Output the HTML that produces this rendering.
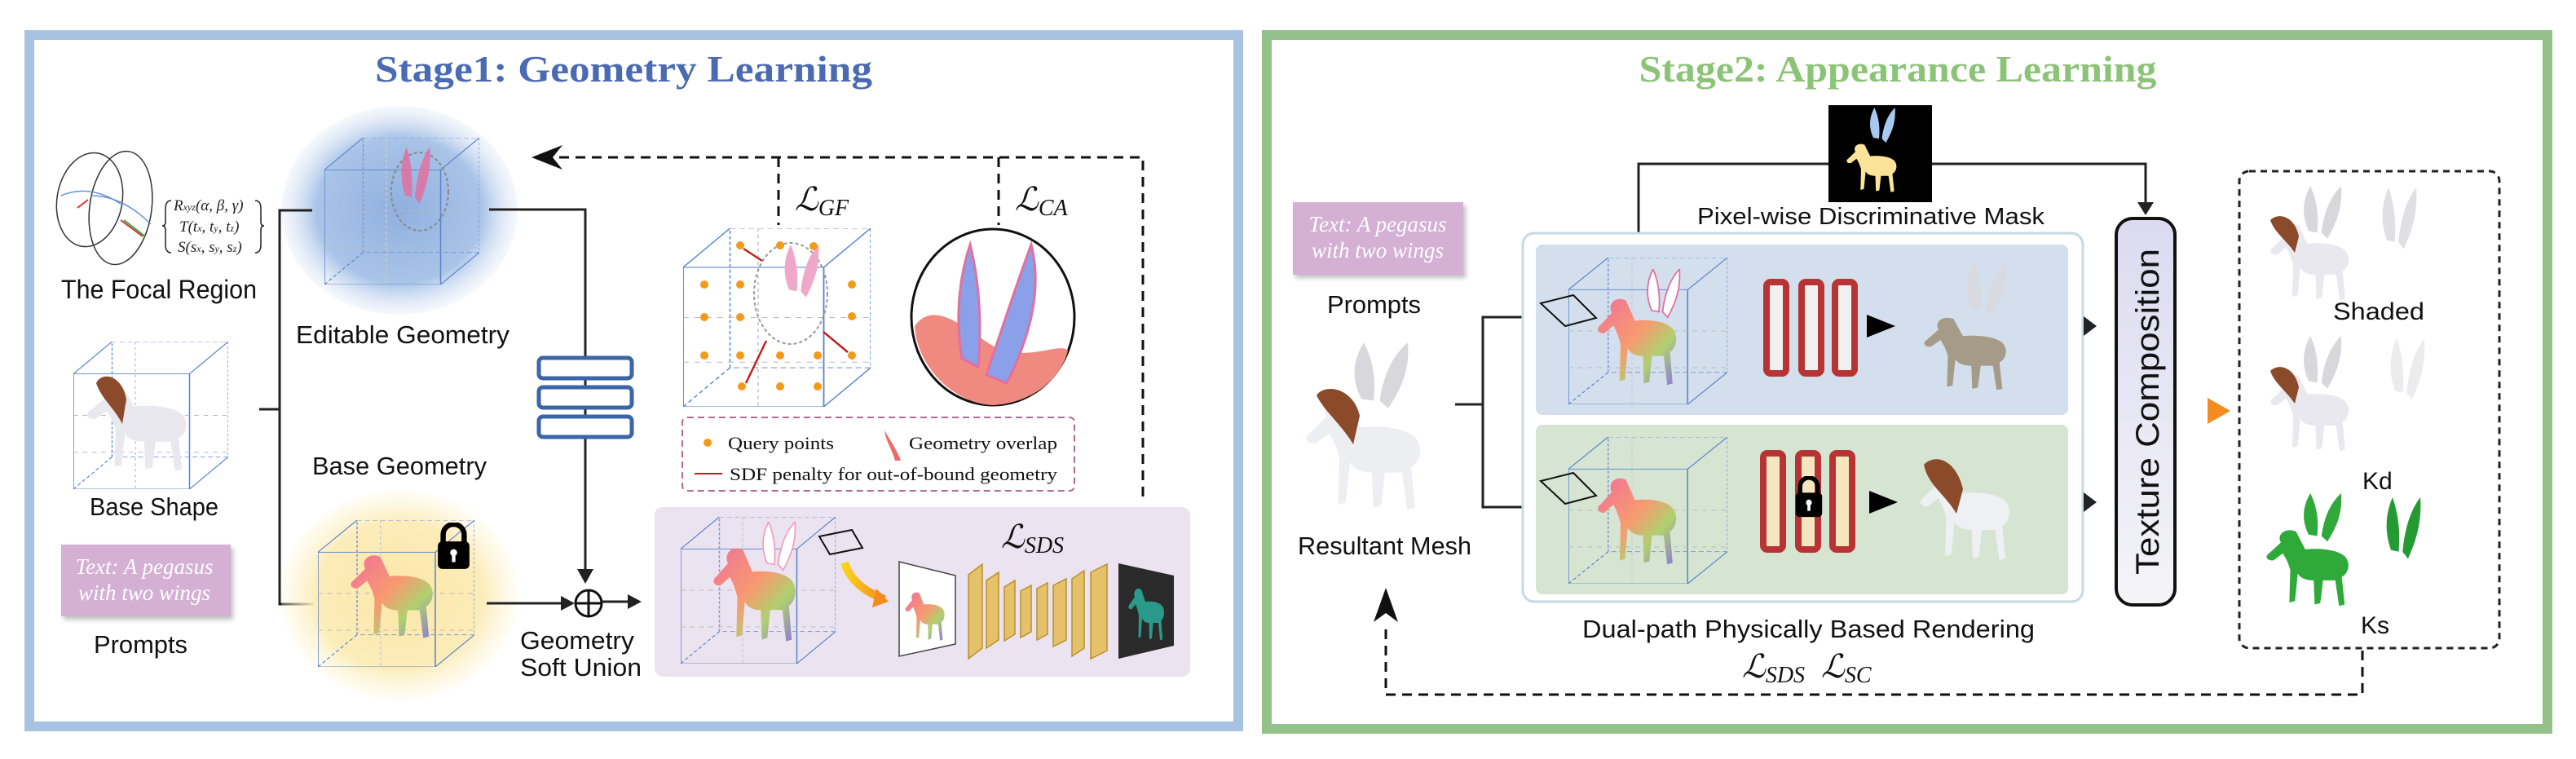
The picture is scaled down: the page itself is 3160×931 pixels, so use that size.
<!DOCTYPE html>
<html><head><meta charset="utf-8"><style>
html,body{margin:0;padding:0;background:#fff;}
svg{display:block;}
.t{font-family:"Liberation Sans",sans-serif;fill:#111;}
.s{font-family:"Liberation Serif",serif;}
</style></head><body>
<svg width="3160" height="931" viewBox="0 0 3160 931" xmlns="http://www.w3.org/2000/svg">
<defs>
<radialGradient id="gb" cx="50%" cy="50%" r="50%"><stop offset="0" stop-color="#8fb0de"/><stop offset="0.7" stop-color="#aac4e8"/><stop offset="1" stop-color="#dfe9f6" stop-opacity="0.3"/></radialGradient>
<radialGradient id="gy" cx="50%" cy="50%" r="50%"><stop offset="0" stop-color="#fbe7a8"/><stop offset="0.7" stop-color="#fcecb8"/><stop offset="1" stop-color="#fff7dd" stop-opacity="0.3"/></radialGradient>
<linearGradient id="rain" x1="0" y1="0" x2="1" y2="1"><stop offset="0" stop-color="#f0709a"/><stop offset="0.45" stop-color="#f79a70"/><stop offset="0.7" stop-color="#b0d070"/><stop offset="1" stop-color="#8a7ad8"/></linearGradient>
<linearGradient id="tc" x1="0" y1="0" x2="0" y2="1"><stop offset="0" stop-color="#dcdaf0"/><stop offset="1" stop-color="#f4f4f8"/></linearGradient>
<linearGradient id="oa" x1="0" y1="0" x2="1" y2="0"><stop offset="0" stop-color="#fbd21a"/><stop offset="1" stop-color="#f58a1e"/></linearGradient>
<linearGradient id="gl" x1="0" y1="0" x2="1" y2="0"><stop offset="0" stop-color="#fff"/><stop offset="1" stop-color="#222"/></linearGradient>
<symbol id="horse" viewBox="0 0 100 130" preserveAspectRatio="none">
<path d="M20,30 C15,18 25,8 36,14 L46,40 C60,38 80,40 88,50 C95,60 92,75 85,80 L88,120 L82,122 L78,85 L65,85 L62,118 L56,120 L55,85 C45,85 40,80 38,75 L35,115 L29,117 L30,70 C28,60 25,52 22,46 L12,56 C5,57 2,50 8,45 Z"/>
</symbol>
<symbol id="wing" viewBox="0 0 100 130" preserveAspectRatio="none">
<path d="M40,60 C30,35 35,15 42,0 C50,20 52,40 50,62 Z M55,62 C58,35 65,15 78,0 C80,30 72,50 62,70 Z"/>
</symbol>
<symbol id="cube" viewBox="0 0 100 160" preserveAspectRatio="none">
<g fill="none" stroke="#5b84cc" stroke-width="0.8" vector-effect="non-scaling-stroke">
<rect x="0" y="35" width="75" height="125"/><rect x="25" y="0" width="75" height="125" stroke-dasharray="3,2" stroke="#7a9ad8"/>
<line x1="0" y1="35" x2="25" y2="0"/><line x1="75" y1="35" x2="100" y2="0"/><line x1="75" y1="160" x2="100" y2="125"/><line x1="0" y1="160" x2="25" y2="125" stroke-dasharray="3,2"/>
<line x1="0" y1="80" x2="100" y2="80" stroke="#bbb" stroke-dasharray="3,3"/><line x1="0" y1="120" x2="100" y2="120" stroke="#bbb" stroke-dasharray="3,3"/>
<line x1="40" y1="0" x2="40" y2="160" stroke="#ccc" stroke-dasharray="3,3"/>
</g></symbol>
<symbol id="lock" viewBox="0 0 40 56" preserveAspectRatio="none">
<path d="M8,24 V14 A12,12 0 0 1 32,14 V24" fill="none" stroke="#000" stroke-width="6"/>
<rect x="2" y="22" width="36" height="32" rx="5" fill="#000"/><circle cx="20" cy="35" r="4" fill="#fff"/><rect x="18" y="36" width="4" height="10" fill="#fff"/>
</symbol>
</defs>

<!-- ============ STAGE 1 ============ -->
<rect x="36" y="43" width="1483" height="848" fill="#fff" stroke="#a8c2e2" stroke-width="12"/>
<text x="765" y="100" text-anchor="middle" class="s" font-size="46" font-weight="bold" fill="#4a6ab3" textLength="610" lengthAdjust="spacingAndGlyphs">Stage1: Geometry  Learning</text>

<!-- focal region -->
<g fill="none" stroke="#333" stroke-width="1.5">
<ellipse cx="110" cy="245" rx="40" ry="58" transform="rotate(10 110 245)"/>
<ellipse cx="148" cy="255" rx="38" ry="70" transform="rotate(8 148 255)"/>
<path d="M75,240 Q110,225 148,250 M112,240 Q150,240 185,275" stroke="#6a90d8"/>
</g>
<path d="M95,255 L108,245 M148,270 L175,290" stroke="#d33" stroke-width="2"/>
<path d="M152,270 L178,290" stroke="#3a3" stroke-width="2"/>
<text class="s" font-size="19" font-style="italic" fill="#222"><tspan x="213" y="258">R<tspan font-size="12">xyz</tspan>(α, β, γ)</tspan><tspan x="220" y="284">T(t<tspan font-size="12">x</tspan>, t<tspan font-size="12">y</tspan>, t<tspan font-size="12">z</tspan>)</tspan><tspan x="218" y="309">S(s<tspan font-size="12">x</tspan>, s<tspan font-size="12">y</tspan>, s<tspan font-size="12">z</tspan>)</tspan></text>
<path d="M210,246 Q203,246 203,256 V272 Q203,277 199,277 Q203,277 203,282 V300 Q203,310 210,310" fill="none" stroke="#222" stroke-width="1.5"/>
<path d="M313,246 Q320,246 320,256 V272 Q320,277 324,277 Q320,277 320,282 V300 Q320,310 313,310" fill="none" stroke="#222" stroke-width="1.5"/>
<text x="75" y="366" class="t" font-size="32" textLength="240" lengthAdjust="spacingAndGlyphs">The Focal Region</text>

<!-- editable geometry -->
<ellipse cx="490" cy="258" rx="145" ry="128" fill="url(#gb)"/>
<use href="#cube" x="398" y="169" width="190" height="180"/>
<ellipse cx="515" cy="235" rx="35" ry="48" fill="none" stroke="#888" stroke-dasharray="4,3" stroke-width="2"/>
<use href="#wing" x="465" y="180" width="80" height="130" fill="#e070a0" opacity="0.85"/>
<text x="363" y="421" class="t" font-size="31" textLength="262" lengthAdjust="spacingAndGlyphs">Editable Geometry</text>

<!-- base shape -->
<use href="#cube" x="90" y="419" width="190" height="181"/>
<use href="#horse" x="100" y="460" width="140" height="125" fill="#e8e8ee"/>
<path d="M118,470 C125,455 150,460 155,490 L150,520 C140,500 125,490 118,470Z" fill="#8b4a2a"/>
<text x="110" y="632" class="t" font-size="31" textLength="158" lengthAdjust="spacingAndGlyphs">Base Shape</text>

<!-- prompts -->
<rect x="75" y="668" width="208" height="88" fill="#d4b0d4" filter="drop-shadow(3px 4px 3px rgba(0,0,0,.25))"/>
<text class="s" font-size="27" font-style="italic" fill="#fff" text-anchor="middle"><tspan x="177" y="704">Text: A pegasus</tspan><tspan x="177" y="736">with two wings</tspan></text>
<text x="115" y="801" class="t" font-size="31" textLength="115" lengthAdjust="spacingAndGlyphs">Prompts</text>

<!-- bracket -->
<path d="M383,258 H343 V741 H385 M318,502 H343" fill="none" stroke="#222" stroke-width="3"/>

<!-- base geometry -->
<text x="383" y="582" class="t" font-size="31" textLength="214" lengthAdjust="spacingAndGlyphs">Base Geometry</text>
<ellipse cx="490" cy="730" rx="145" ry="128" fill="url(#gy)"/>
<use href="#cube" x="390" y="638" width="192" height="180"/>
<use href="#horse" x="425" y="670" width="115" height="120" fill="url(#rain)"/>
<use href="#lock" x="535" y="641" width="43" height="59"/>

<!-- line to union -->
<path d="M600,257 H718 V700" fill="none" stroke="#222" stroke-width="3"/>
<path d="M708,698 L718,716 L728,698 Z" fill="#222"/>
<g fill="#fff" stroke="#3a66a8" stroke-width="5">
<rect x="661" y="439" width="114" height="25" rx="5"/><rect x="661" y="475" width="114" height="25" rx="5"/><rect x="661" y="511" width="114" height="25" rx="5"/>
</g>
<path d="M597,740 H690" stroke="#222" stroke-width="3"/><path d="M688,731 L705,740 L688,749Z" fill="#222"/>
<circle cx="722" cy="740" r="16" fill="#fff" stroke="#111" stroke-width="3"/>
<path d="M706,740 H738 M722,724 V756" stroke="#111" stroke-width="3"/>
<path d="M738,738 H772" stroke="#222" stroke-width="3"/><path d="M770,729 L787,738 L770,747Z" fill="#222"/>
<text class="t" font-size="31"><tspan x="638" y="796" textLength="140" lengthAdjust="spacingAndGlyphs">Geometry</tspan><tspan x="638" y="829" textLength="149" lengthAdjust="spacingAndGlyphs">Soft Union</tspan></text>

<!-- dashed feedback -->
<path d="M1402,609 V193 H680 M955,193 V276 M1225,193 V276" fill="none" stroke="#111" stroke-width="3" stroke-dasharray="12,8"/>
<path d="M690,178 L652,193 L690,208 L678,193Z" fill="#111"/>
<text x="975" y="258" class="s" font-size="40" font-style="italic" fill="#111">ℒ<tspan font-size="28" dy="6">GF</tspan></text>
<text x="1245" y="258" class="s" font-size="40" font-style="italic" fill="#111">ℒ<tspan font-size="28" dy="6">CA</tspan></text>

<!-- grid cube -->
<use href="#cube" x="838" y="280" width="230" height="219"/>
<ellipse cx="970" cy="360" rx="45" ry="62" fill="none" stroke="#999" stroke-dasharray="4,3" stroke-width="2"/>
<use href="#wing" x="930" y="300" width="95" height="120" fill="#f0a8c8"/>
<g fill="#f39a1a">
<circle cx="908" cy="301" r="5"/><circle cx="957" cy="301" r="5"/><circle cx="998" cy="302" r="5"/>
<circle cx="864" cy="349" r="5"/><circle cx="908" cy="349" r="5"/><circle cx="1045" cy="349" r="5"/>
<circle cx="864" cy="389" r="5"/><circle cx="908" cy="389" r="5"/><circle cx="1045" cy="388" r="5"/>
<circle cx="864" cy="436" r="5"/><circle cx="908" cy="436" r="5"/><circle cx="957" cy="436" r="5"/><circle cx="1003" cy="436" r="5"/><circle cx="1045" cy="436" r="5"/>
<circle cx="910" cy="474" r="5"/><circle cx="957" cy="474" r="5"/><circle cx="1003" cy="474" r="5"/>
</g>
<path d="M912,305 L935,320 M1010,407 L1040,432 M940,418 L915,470" stroke="#c02020" stroke-width="2.5"/>
<!-- circle zoom -->
<ellipse cx="1218" cy="389" rx="100" ry="108" fill="#fff" stroke="#111" stroke-width="3"/>
<path d="M1122,400 C1150,360 1200,420 1230,430 C1270,440 1300,420 1310,430 C1300,470 1260,495 1218,497 C1170,495 1125,450 1122,400Z" fill="#f08a80"/>
<path d="M1180,440 C1170,380 1180,330 1190,300 C1200,340 1205,390 1200,450Z M1210,460 C1230,400 1250,340 1265,300 C1280,360 1260,420 1235,470Z" fill="#8aa0e8" stroke="#e070a0" stroke-width="3"/>
<!-- legend -->
<rect x="837" y="512" width="481" height="90" rx="6" fill="#fff" stroke="#b06a98" stroke-width="2" stroke-dasharray="8,5"/>
<circle cx="868" cy="543" r="5" fill="#f39a1a"/>
<text x="893" y="551" class="s" font-size="22" fill="#111" textLength="130" lengthAdjust="spacingAndGlyphs">Query points</text>
<path d="M1085,528 C1092,540 1102,555 1105,565 L1098,565 C1094,550 1086,540 1085,528Z" fill="#ee6a6a"/>
<text x="1115" y="551" class="s" font-size="22" fill="#111" textLength="182" lengthAdjust="spacingAndGlyphs">Geometry overlap</text>
<path d="M852,581 H886" stroke="#c02020" stroke-width="2"/>
<text x="895" y="589" class="s" font-size="22" fill="#111" textLength="402" lengthAdjust="spacingAndGlyphs">SDF penalty for out-of-bound geometry</text>

<!-- SDS box -->
<rect x="803" y="622" width="657" height="208" rx="10" fill="#ebe3ef"/>
<use href="#cube" x="835" y="634" width="190" height="180"/>
<use href="#horse" x="870" y="660" width="115" height="135" fill="url(#rain)"/>
<use href="#wing" x="905" y="640" width="90" height="110" fill="#fff" stroke="#f0a0c0" stroke-width="2"/>
<path d="M1005,658 L1045,650 L1058,672 L1018,680Z" fill="none" stroke="#111" stroke-width="2"/>
<path d="M1036,690 Q1045,720 1085,735" fill="none" stroke="url(#oa)" stroke-width="10"/>
<path d="M1075,722 L1090,738 L1070,745Z" fill="#f58a1e"/>
<text x="1228" y="672" class="s" font-size="40" font-style="italic" fill="#111">ℒ<tspan font-size="28" dy="6">SDS</tspan></text>
<path d="M1103,689 L1172,706 V790 L1103,805Z" fill="#fff" stroke="#444" stroke-width="1.5"/>
<use href="#horse" x="1108" y="720" width="55" height="70" fill="url(#rain)"/>
<g fill="#e5c26a" stroke="#b89030" stroke-width="1.5">
<path d="M1188,705 L1205,692 V795 L1188,808Z"/><path d="M1210,712 L1225,702 V785 L1210,795Z"/><path d="M1232,720 L1245,712 V778 L1232,786Z"/><path d="M1252,725 L1265,718 V775 L1252,782Z"/><path d="M1272,722 L1285,715 V778 L1272,785Z"/><path d="M1292,718 L1308,710 V785 L1292,793Z"/><path d="M1315,710 L1330,700 V795 L1315,805Z"/><path d="M1338,702 L1358,692 V798 L1338,808Z"/>
</g>
<path d="M1372,691 L1440,706 V792 L1372,808Z" fill="#2a2a2a"/>
<use href="#horse" x="1382" y="715" width="50" height="75" fill="#2a9a8a"/>

<!-- ============ STAGE 2 ============ -->
<rect x="1554" y="43" width="1571" height="851" fill="#fff" stroke="#94c18a" stroke-width="12"/>
<text x="2328" y="100" text-anchor="middle" class="s" font-size="46" font-weight="bold" fill="#8cc477" textLength="635" lengthAdjust="spacingAndGlyphs">Stage2: Appearance Learning</text>

<!-- mask -->
<path d="M2010,300 V201 H2632 V252" fill="none" stroke="#222" stroke-width="3"/>
<path d="M2622,248 L2632,264 L2642,248Z" fill="#222"/>
<rect x="2243" y="129" width="127" height="119" fill="#000"/>
<use href="#horse" x="2262" y="170" width="70" height="70" fill="#fbe39a"/>
<use href="#wing" x="2270" y="132" width="70" height="80" fill="#a8c8f0"/>
<text x="2082" y="275" class="t" font-size="29" textLength="426" lengthAdjust="spacingAndGlyphs">Pixel-wise Discriminative Mask</text>

<!-- prompts -->
<rect x="1586" y="248" width="209" height="89" fill="#d4b0d4" filter="drop-shadow(3px 4px 3px rgba(0,0,0,.25))"/>
<text class="s" font-size="27" font-style="italic" fill="#fff" text-anchor="middle"><tspan x="1690" y="284">Text: A pegasus</tspan><tspan x="1690" y="316">with two wings</tspan></text>
<text x="1628" y="384" class="t" font-size="31" textLength="115" lengthAdjust="spacingAndGlyphs">Prompts</text>

<!-- resultant mesh -->
<use href="#horse" x="1595" y="475" width="160" height="160" fill="#eceef2"/>
<use href="#wing" x="1610" y="420" width="150" height="150" fill="#d8d8dc"/>
<path d="M1615,485 C1625,470 1660,475 1668,510 L1660,545 C1645,520 1625,505 1615,485Z" fill="#8b4a2a"/>
<text x="1592" y="680" class="t" font-size="31" textLength="213" lengthAdjust="spacingAndGlyphs">Resultant Mesh</text>
<path d="M1785,496 H1819 M1876,389 H1819 V622 H1876" fill="none" stroke="#222" stroke-width="3"/>

<!-- dual path box -->
<rect x="1868" y="286" width="687" height="452" rx="14" fill="#fff" stroke="#c8d8e4" stroke-width="3"/>
<rect x="1884" y="300" width="653" height="209" rx="8" fill="#d3dfec"/>
<rect x="1884" y="521" width="653" height="208" rx="8" fill="#d6e5d2"/>
<!-- top path -->
<use href="#cube" x="1924" y="316" width="195" height="180"/>
<use href="#horse" x="1955" y="355" width="110" height="125" fill="url(#rain)"/>
<use href="#wing" x="1990" y="330" width="90" height="110" fill="#fff" stroke="#e070a0" stroke-width="2"/>
<path d="M1890,372 L1930,362 L1958,390 L1920,400Z" fill="none" stroke="#111" stroke-width="2"/>
<path d="M2112,400 H2300" stroke="url(#gl)" stroke-width="4"/>
<g fill="#f0f0f0" stroke="#b83434" stroke-width="8">
<rect x="2167" y="346" width="24" height="112" rx="5"/><rect x="2210" y="346" width="24" height="112" rx="5"/><rect x="2251" y="346" width="24" height="112" rx="5"/>
</g>
<path d="M2290,386 L2325,400 L2290,414Z" fill="#000"/>
<use href="#horse" x="2355" y="380" width="115" height="105" fill="#a69a88"/>
<use href="#wing" x="2375" y="322" width="110" height="120" fill="#d8dae0"/>
<path d="M2517,400 H2560" stroke="url(#gl)" stroke-width="4"/><path d="M2556,388 L2572,400 L2556,412Z" fill="#222"/>
<!-- bottom path -->
<use href="#cube" x="1924" y="536" width="195" height="180"/>
<use href="#horse" x="1955" y="575" width="110" height="125" fill="url(#rain)"/>
<path d="M1890,590 L1930,580 L1958,608 L1920,618Z" fill="none" stroke="#111" stroke-width="2"/>
<path d="M2112,616 H2300" stroke="url(#gl)" stroke-width="4"/>
<g fill="#f6e6c0" stroke="#b83434" stroke-width="8">
<rect x="2163" y="556" width="24" height="118" rx="5"/><rect x="2206" y="556" width="24" height="118" rx="5"/><rect x="2248" y="556" width="24" height="118" rx="5"/>
</g>
<use href="#lock" x="2201" y="584" width="36" height="52"/>
<path d="M2293,602 L2328,616 L2293,630Z" fill="#000"/>
<use href="#horse" x="2350" y="565" width="125" height="130" fill="#eef0f4"/>
<path d="M2360,570 C2375,555 2400,565 2408,600 L2400,630 C2385,605 2365,595 2360,570Z" fill="#8b4a2a"/>
<path d="M2517,616 H2560" stroke="url(#gl)" stroke-width="4"/><path d="M2556,604 L2572,616 L2556,628Z" fill="#222"/>
<text x="1941" y="782" class="t" font-size="31" textLength="555" lengthAdjust="spacingAndGlyphs">Dual-path Physically Based Rendering</text>
<text x="2137" y="831" class="s" font-size="40" font-style="italic" fill="#111">ℒ<tspan font-size="28" dy="6">SDS</tspan><tspan dx="20" dy="-6">ℒ</tspan><tspan font-size="28" dy="6">SC</tspan></text>

<!-- texture composition -->
<rect x="2596" y="268" width="72" height="474" rx="20" fill="url(#tc)" stroke="#111" stroke-width="4"/>
<text transform="translate(2648,505) rotate(-90)" text-anchor="middle" class="t" font-size="40" textLength="400" lengthAdjust="spacingAndGlyphs">Texture Composition</text>
<path d="M2670,504 H2712" stroke="url(#oa)" stroke-width="12"/><path d="M2708,488 L2736,504 L2708,520Z" fill="#f58a1e"/>

<!-- outputs -->
<rect x="2747" y="210" width="319" height="585" rx="12" fill="#fff" stroke="#222" stroke-width="3" stroke-dasharray="8,6"/>
<use href="#horse" x="2780" y="265" width="110" height="110" fill="#e8e8ee"/>
<use href="#wing" x="2790" y="228" width="105" height="120" fill="#d8d8dc"/>
<path d="M2785,270 C2795,260 2815,265 2820,290 L2815,310 C2805,295 2790,285 2785,270Z" fill="#8b4a2a"/>
<use href="#wing" x="2890" y="230" width="95" height="140" fill="#e0e0e4"/>
<text x="2862" y="392" class="t" font-size="30" textLength="112" lengthAdjust="spacingAndGlyphs">Shaded</text>
<use href="#horse" x="2780" y="450" width="110" height="110" fill="#e8e8ee"/>
<use href="#wing" x="2790" y="412" width="105" height="120" fill="#d8d8dc"/>
<path d="M2785,455 C2795,445 2815,450 2820,475 L2815,495 C2805,480 2790,470 2785,455Z" fill="#8b4a2a"/>
<use href="#wing" x="2900" y="415" width="95" height="140" fill="#ececef"/>
<text x="2898" y="600" class="t" font-size="30">Kd</text>
<use href="#horse" x="2775" y="640" width="115" height="110" fill="#2faa3a"/>
<use href="#wing" x="2790" y="605" width="105" height="110" fill="#2faa3a"/>
<use href="#wing" x="2895" y="610" width="95" height="140" fill="#239a32"/>
<text x="2896" y="777" class="t" font-size="30">Ks</text>

<!-- return dashed -->
<path d="M2898,798 V852 H1700 V765" fill="none" stroke="#111" stroke-width="3" stroke-dasharray="12,8"/>
<path d="M1685,763 L1700,721 L1715,763 L1700,752Z" fill="#111"/>
</svg>
</body></html>
